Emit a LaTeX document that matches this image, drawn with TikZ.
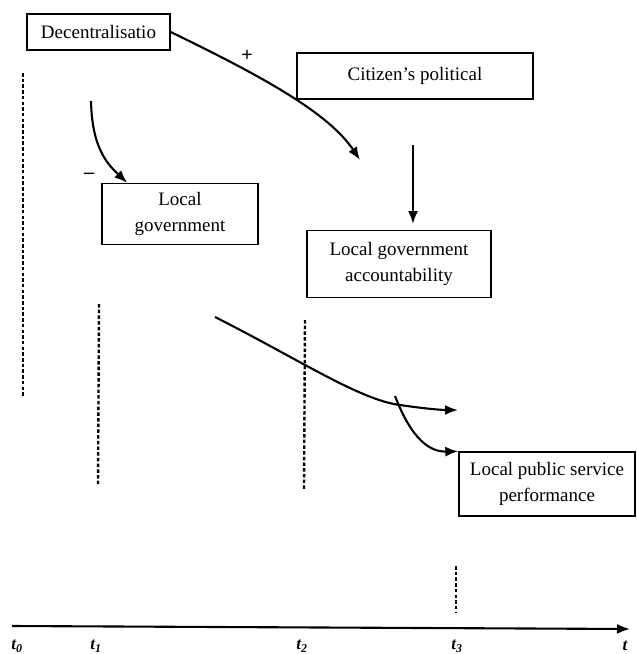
\documentclass[tikz,border=0pt]{standalone}
\usepackage{fontspec}
\setmainfont{Liberation Serif}
\usetikzlibrary{arrows.meta,calc}
\begin{document}
\begin{tikzpicture}[x=1pt,y=-1pt,
  box/.style={draw,line width=1.4pt,inner sep=0pt,align=center,font=\fontsize{19}{26}\selectfont},
  conn/.style={line width=2.1pt,-{Latex[length=13pt,width=10pt]}},
  guide/.style={line width=2.4pt,dash pattern=on 3.5pt off 2.2pt},
  lab/.style={font=\fontsize{17}{17}\selectfont\bfseries\itshape,inner sep=0pt},
  sign/.style={font=\fontsize{20}{20}\selectfont\bfseries,inner sep=0pt}]
\useasboundingbox (0,0) rectangle (637,654);
% boxes
\node[box,minimum width=143pt,minimum height=36pt] (dec) at (98.5,32) {Decentralisatio};
\node[box,minimum width=236pt,minimum height=46pt] (cit) at (415,76) {Citizen’s political};
\node[box,minimum width=156pt,minimum height=61pt] (lg) at (180,214) {Local\\government};
\node[box,minimum width=184pt,minimum height=67pt] (lga) at (399,264) {Local government\\accountability};
\node[box,minimum width=176pt,minimum height=64pt] (lps) at (547,484) {Local public service\\performance};
% signs
\node[sign] (plus) at (247,56) {+};
\node[sign] (minus) at (89,176) {–};
% coordinates
\coordinate (decend) at (360,160);
\coordinate (mstart) at (91,101);
\coordinate (lgtip) at ($(lg.north west)+(26,0)$);
\coordinate (vs) at (413,145);
\coordinate (ve) at (413,224);
\coordinate (cs) at (215,317);
\coordinate (cx) at (400,405);
\coordinate (ce) at (458,410);
\coordinate (bs) at (395,396);
% connectors
\draw[conn] (dec.east) .. controls (270,80) and (330,115) .. (decend);
\draw[conn] (mstart) .. controls (92,145) and (105,162) .. (lgtip);
\draw[conn] (vs) -- (ve);
\draw[conn] (cs) .. controls (300,360) and (360,400) .. (cx) .. controls (420,408) and (440,410) .. (ce);
\draw[conn] (bs) .. controls (412,440) and (430,452) .. (lps.north west);
% time guides
\coordinate (g0a) at (23,73);  \coordinate (g0b) at (23,397);
\coordinate (g1a) at (99,304); \coordinate (g1b) at (98,486);
\coordinate (g2a) at (305,320); \coordinate (g2b) at (304,489);
\coordinate (g3a) at (456,566); \coordinate (g3b) at (456,612);
\draw[guide] (g0a) -- (g0b);
\draw[guide] (g1a) -- (g1b);
\draw[guide] (g2a) -- (g2b);
\draw[guide] (g3a) -- (g3b);
% axis
\coordinate (ax0) at (12,626);
\coordinate (ax1) at (630,629);
\draw[conn] (ax0) -- (ax1);
\node[lab] (t0) at (17,646) {t\textsubscript{0}};
\node[lab] (t1) at (96,646) {t\textsubscript{1}};
\node[lab] (t2) at (302,646) {t\textsubscript{2}};
\node[lab] (t3) at (457,646) {t\textsubscript{3}};
\node[lab] (t) at (625,646) {t};
\end{tikzpicture}
\end{document}
